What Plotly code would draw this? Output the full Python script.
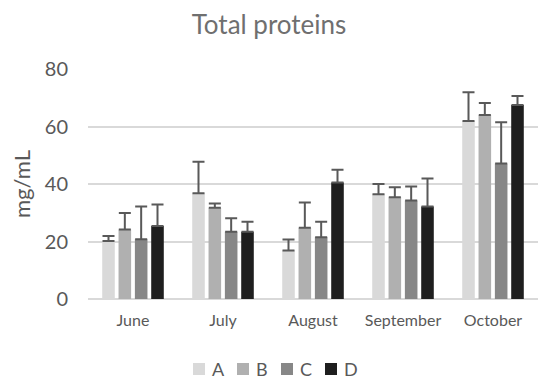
import plotly.graph_objects as go

months = ["June", "July", "August", "September", "October"]
series_names = ["A", "B", "C", "D"]
A_vals = [20.2, 36.8, 16.9, 36.4, 61.9]
B_vals = [24.2, 31.7, 24.8, 35.4, 64.0]
C_vals = [20.8, 23.4, 21.5, 34.3, 47.1]
D_vals = [25.4, 23.4, 40.5, 32.2, 67.5]
A_err = [1.7, 10.9, 3.8, 3.6, 10.0]
B_err = [5.7, 1.5, 8.8, 3.5, 4.2]
C_err = [11.4, 4.7, 5.4, 4.8, 14.4]
D_err = [7.5, 3.5, 4.5, 9.7, 3.1]
y_ticks = [0, 20, 40, 60, 80]

colors = ["#d9d9d9", "#b0b0b0", "#878787", "#1e1e1e"]
FONT = "Lato"
TXT = "#595959"

# page has an 8px body margin; figure coordinates = page coordinates - 8
OFF = 8
W, H = 550 - OFF, 385 - OFF
plot_left, plot_right, plot_top, plot_bottom = 88 - OFF, 538 - OFF, 69 - OFF, 299 - OFF
ML, MR, MT, MB = plot_left, W - plot_right, plot_top, H - plot_bottom
PW, PH = W - ML - MR, H - MT - MB

fig = go.Figure()
for name, vals, errs, col in zip(series_names, [A_vals, B_vals, C_vals, D_vals],
                                 [A_err, B_err, C_err, D_err], colors):
    fig.add_trace(go.Bar(
        x=months, y=vals, name=name, marker=dict(color=col, line=dict(width=0)),
        showlegend=False,
        error_y=dict(type="data", array=errs, arrayminus=[0] * len(errs), symmetric=False,
                     color="#595959", thickness=2, width=6),
    ))

# manual legend (square swatch + label) below the plot
def px2x(px):
    return (px - OFF - ML) / PW

def py2y(py):
    return (H - MB - (py - OFF)) / PH

legend_start = 193
legend_pitch = 44
sq = 12
legend_cy = 369
for i, (name, col) in enumerate(zip(series_names, colors)):
    x0 = legend_start + i * legend_pitch
    fig.add_shape(type="rect", xref="paper", yref="paper",
                  x0=px2x(x0), x1=px2x(x0 + sq),
                  y0=py2y(legend_cy + sq / 2), y1=py2y(legend_cy - sq / 2),
                  fillcolor=col, line=dict(width=0))
    fig.add_annotation(text=name, xref="paper", yref="paper",
                       x=px2x(x0 + sq + 5), y=py2y(legend_cy), xanchor="left", yanchor="middle",
                       showarrow=False, font=dict(family=FONT, size=18, color=TXT))

fig.update_layout(
    width=W, height=H,
    margin=dict(l=ML, r=MR, t=MT, b=MB),
    paper_bgcolor="white", plot_bgcolor="white",
    font=dict(family=FONT, color=TXT),
    barmode="group", bargap=0.274, bargroupgap=0.23,
    showlegend=False,
    title=dict(text="Total proteins", x=(269 - OFF) / W, xref="container", xanchor="center",
               y=1 - (24.5 - OFF) / H, yref="container", yanchor="middle",
               font=dict(family=FONT, size=26, color="#6f6f6f")),
    xaxis=dict(showgrid=False, showline=False, ticks="", tickfont=dict(size=16, color=TXT),
               ticklabelstandoff=10, automargin=False),
    yaxis=dict(range=[0, 80], tickvals=y_ticks, showgrid=True, gridcolor="#d9d9d9", gridwidth=1.5,
               zeroline=True, zerolinecolor="#d9d9d9", zerolinewidth=1.5,
               showline=False, ticks="", ticklabelstandoff=19,
               tickfont=dict(size=20, color=TXT), automargin=False,
               title=dict(text="mg/mL", font=dict(size=22, color=TXT), standoff=8)),
)

fig.write_html("out.html")
